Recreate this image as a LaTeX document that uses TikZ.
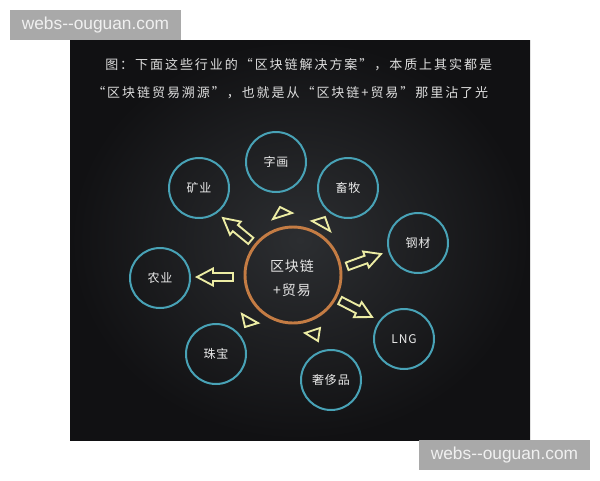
\documentclass[tikz,border=0pt]{standalone}
\usepackage{fontspec}
\usepackage{tikz}
\usetikzlibrary{calc}
\newfontfamily\cjk{Noto Sans CJK SC}
\newfontfamily\cjkwide[LetterSpace=15]{Noto Sans CJK SC}
\newfontfamily\cjkmid[LetterSpace=7]{Noto Sans CJK SC}
\newfontfamily\wmfont{Liberation Sans}

\definecolor{panelIn}{RGB}{44,46,49}
\definecolor{panelOut}{RGB}{17,17,19}
\definecolor{ringBlue}{RGB}{72,162,182}
\definecolor{ringOrange}{RGB}{196,124,68}
\definecolor{arrowYellow}{RGB}{236,236,164}
\definecolor{titleGray}{RGB}{222,222,222}
\definecolor{wmGray}{RGB}{169,169,169}

\tikzset{
  trade/.style={circle, draw=ringBlue, line width=1.5pt, minimum size=45pt, inner sep=0pt, text=white!92!black, font=\cjkmid\fontsize{9}{11}\selectfont},
  hub/.style={circle, draw=ringOrange, line width=2.2pt, minimum size=72pt, inner sep=0pt, align=center, text=white!90!black, font=\cjkmid\fontsize{10.5}{18}\selectfont},
  fat arrow/.pic={\draw[arrowYellow, line width=1.4pt, line join=miter] (0,0) -- (-16,8.5) -- (-16,4) -- (-36,4) -- (-36,-4) -- (-16,-4) -- (-16,-8.5) -- cycle;},
  headtri/.style={draw=arrowYellow, line width=1.4pt, line join=miter},
  watermark/.style={fill=wmGray, text=white!94!black, minimum width=128.25pt, minimum height=22.5pt, inner sep=0pt, font=\wmfont\fontsize{13}{15}\selectfont},
  titleline/.style={anchor=west, inner sep=0pt, text=titleGray, font=\cjkwide\fontsize{9.75}{12}\selectfont}
}

\begin{document}
\begin{tikzpicture}[x=0.75pt,y=-0.75pt]
\useasboundingbox (0,0) rectangle (600,480);
\fill[white] (0,0) rectangle (600,480);

%Shape: Rectangle (dark panel)
\shade[inner color=panelIn, outer color=panelOut] (70,40) rectangle (530,440);

% Text Node
\node[titleline] (titleA) at (105,65) {图：下面这些行业的“区块链解决方案”，本质上其实都是};
% Text Node
\node[titleline] (titleB) at (92,93) {“区块链贸易溯源”，也就是从“区块链+贸易”那里沾了光};

%Shape: Circle (center)
\node[hub] (hub) at (293,275) {};
\node[font=\cjkmid\fontsize{10.5}{18}\selectfont, text=white!90!black, align=center] (hubText) at (292,278) {区块链\\+贸易};

%Shape: Circle
\node[trade] (ziHua) at (276,162) {字画};
\node[trade] (kuangYe) at (199,188) {矿业};
\node[trade] (xuMu) at (348,188) {畜牧};
\node[trade] (gangCai) at (418,243) {钢材};
\node[trade] (nongYe) at (160,278) {农业};
\node[trade] (lng) at (404,339) {LNG};
\node[trade] (zhuBao) at (216,354) {珠宝};
\node[trade] (sheChiPin) at (331,380) {奢侈品};

%Block arrows
\pic[rotate=140.6] at (223,218) {fat arrow};
\pic[rotate=180] at (197,277) {fat arrow};
\pic[rotate=20] at (381,254) {fat arrow};
\pic[rotate=-27.3] at (372,317) {fat arrow};

%Triangles (heads only)
\draw[headtri] (280,207) -- (273,219) -- (292,213) -- cycle;
\draw[headtri] (312,221) -- (325,217) -- (330,231) -- cycle;
\draw[headtri] (242,314) -- (245,327) -- (258,323) -- cycle;
\draw[headtri] (305,333) -- (320,328) -- (318,341) -- cycle;

% Watermarks
\node[watermark] (wmTop) at (95.5,25) {webs\mbox{-}\mbox{-}ouguan.com};
\node[watermark] (wmBottom) at (504.5,455) {webs\mbox{-}\mbox{-}ouguan.com};

\end{tikzpicture}
\end{document}
